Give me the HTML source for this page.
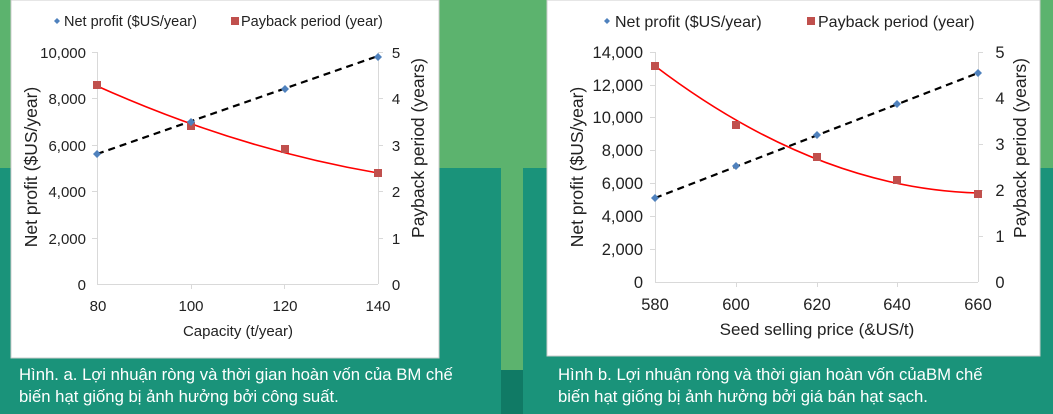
<!DOCTYPE html>
<html><head><meta charset="utf-8"><style>
html,body{margin:0;padding:0;width:1053px;height:414px;overflow:hidden;background:#1a937a}
svg{display:block;font-family:"Liberation Sans",sans-serif}
</style></head><body>
<svg width="1053" height="414" viewBox="0 0 1053 414">
<rect x="0" y="0" width="1053" height="168" fill="#5cb36e"/>
<rect x="501" y="168" width="22" height="202" fill="#5cb36e"/>
<rect x="501" y="370" width="22" height="44" fill="#107a65"/>
<rect x="0" y="168" width="501" height="246" fill="#1a937a"/>
<!-- Left panel -->
<rect x="11" y="0" width="428" height="358" fill="#fff" stroke="#ccc"/>
<g font-size="14.5" fill="#222">
<path d="M54 21l3-3 3 3-3 3z" fill="#4f81bd"/>
<text x="64" y="26">Net profit ($US/year)</text>
<rect x="231" y="17" width="8" height="8" fill="#c0504d"/>
<text x="241" y="26">Payback period (year)</text>
</g>
<g stroke="#d9d9d9" stroke-width="1">
<line x1="97.5" y1="52" x2="97.5" y2="284"/><line x1="378.5" y1="52" x2="378.5" y2="284"/>
<line x1="97" y1="284.5" x2="378" y2="284.5"/>
<line x1="92" y1="52.5" x2="97" y2="52.5"/><line x1="92" y1="98.5" x2="97" y2="98.5"/><line x1="92" y1="145.5" x2="97" y2="145.5"/><line x1="92" y1="191.5" x2="97" y2="191.5"/><line x1="92" y1="238.5" x2="97" y2="238.5"/>
<line x1="378" y1="52.5" x2="383" y2="52.5"/><line x1="378" y1="98.5" x2="383" y2="98.5"/><line x1="378" y1="145.5" x2="383" y2="145.5"/><line x1="378" y1="191.5" x2="383" y2="191.5"/><line x1="378" y1="238.5" x2="383" y2="238.5"/>
<line x1="191.5" y1="284" x2="191.5" y2="289"/><line x1="284.5" y1="284" x2="284.5" y2="289"/>
</g>
<g font-size="15" fill="#222" text-anchor="end">
<text x="86" y="58">10,000</text><text x="86" y="104">8,000</text><text x="86" y="151">6,000</text><text x="86" y="197">4,000</text><text x="86" y="244">2,000</text><text x="86" y="290">0</text>
</g>
<g font-size="15" fill="#222" text-anchor="middle">
<text x="396" y="58">5</text><text x="396" y="104">4</text><text x="396" y="151">3</text><text x="396" y="197">2</text><text x="396" y="244">1</text><text x="396" y="290">0</text>
<text x="98" y="311">80</text><text x="191" y="311">100</text><text x="285" y="311">120</text><text x="378" y="311">140</text>
<text x="238" y="336">Capacity (t/year)</text>
</g>
<g font-size="17.5" fill="#222" text-anchor="middle">
<text transform="translate(37 167) rotate(-90)">Net profit ($US/year)</text>
<text transform="translate(424 148) rotate(-90)">Payback period (years)</text>
</g>
<path d="M97 86 Q237.5 149 378 173" fill="none" stroke="#f00" stroke-width="1.6"/>
<line x1="97" y1="154" x2="378" y2="56" stroke="#000" stroke-width="2.2" stroke-dasharray="7,5"/>
<g fill="#c0504d"><rect x="93" y="81" width="8" height="8"/><rect x="187" y="122" width="8" height="8"/><rect x="281" y="145" width="8" height="8"/><rect x="374" y="169" width="8" height="8"/></g>
<g fill="#4f81bd"><path d="M97 150l4 4-4 4-4-4z"/><path d="M191 118l4 4-4 4-4-4z"/><path d="M285 85l4 4-4 4-4-4z"/><path d="M378 53l4 4-4 4-4-4z"/></g>
<g font-size="16.7" fill="#fff"><text x="19" y="380">Hình. a. Lợi nhuận ròng và thời gian hoàn vốn của BM chế</text><text x="19" y="402">biến hạt giống bị ảnh hưởng bởi công suất.</text></g>

<!-- Right panel -->
<rect x="547" y="0" width="493" height="356" fill="#fff" stroke="#ccc"/>
<g font-size="16" fill="#222">
<path d="M604 21l3-3 3 3-3 3z" fill="#4f81bd"/>
<text x="615" y="27">Net profit ($US/year)</text>
<rect x="807" y="17" width="8" height="8" fill="#c0504d"/>
<text x="818" y="27">Payback period (year)</text>
</g>
<g stroke="#d9d9d9" stroke-width="1">
<line x1="655.5" y1="52" x2="655.5" y2="282"/><line x1="978.5" y1="52" x2="978.5" y2="282"/>
<line x1="655" y1="282.5" x2="978" y2="282.5"/>
<line x1="650" y1="52.5" x2="655" y2="52.5"/><line x1="650" y1="85.5" x2="655" y2="85.5"/><line x1="650" y1="117.5" x2="655" y2="117.5"/><line x1="650" y1="150.5" x2="655" y2="150.5"/><line x1="650" y1="183.5" x2="655" y2="183.5"/><line x1="650" y1="216.5" x2="655" y2="216.5"/><line x1="650" y1="249.5" x2="655" y2="249.5"/>
<line x1="978" y1="52.5" x2="983" y2="52.5"/><line x1="978" y1="98.5" x2="983" y2="98.5"/><line x1="978" y1="144.5" x2="983" y2="144.5"/><line x1="978" y1="190.5" x2="983" y2="190.5"/><line x1="978" y1="236.5" x2="983" y2="236.5"/>
<line x1="736.5" y1="282" x2="736.5" y2="287"/><line x1="817.5" y1="282" x2="817.5" y2="287"/><line x1="897.5" y1="282" x2="897.5" y2="287"/>
</g>
<g font-size="16.5" fill="#222" text-anchor="end">
<text x="643" y="58">14,000</text><text x="643" y="91">12,000</text><text x="643" y="123">10,000</text><text x="643" y="156">8,000</text><text x="643" y="189">6,000</text><text x="643" y="222">4,000</text><text x="643" y="255">2,000</text><text x="643" y="288">0</text>
</g>
<g font-size="16.5" fill="#222" text-anchor="middle">
<text x="1000" y="58">5</text><text x="1000" y="104">4</text><text x="1000" y="150">3</text><text x="1000" y="196">2</text><text x="1000" y="242">1</text><text x="1000" y="288">0</text>
<text x="655" y="310">580</text><text x="736" y="310">600</text><text x="817" y="310">620</text><text x="897" y="310">640</text><text x="978" y="310">660</text>
<text x="817" y="335" font-size="17">Seed selling price (&amp;US/t)</text>
</g>
<g font-size="17.5" fill="#222" text-anchor="middle">
<text transform="translate(583 167) rotate(-90)">Net profit ($US/year)</text>
<text transform="translate(1026 148) rotate(-90)">Payback period (years)</text>
</g>
<path d="M655 66 Q816.5 188.5 978 193" fill="none" stroke="#f00" stroke-width="1.6"/>
<line x1="655" y1="198" x2="978" y2="73" stroke="#000" stroke-width="2.2" stroke-dasharray="7,5"/>
<g fill="#c0504d"><rect x="651" y="62" width="8" height="8"/><rect x="732" y="121" width="8" height="8"/><rect x="813" y="153" width="8" height="8"/><rect x="893" y="176" width="8" height="8"/><rect x="974" y="190" width="8" height="8"/></g>
<g fill="#4f81bd"><path d="M655 194l4 4-4 4-4-4z"/><path d="M736 162l4 4-4 4-4-4z"/><path d="M817 131l4 4-4 4-4-4z"/><path d="M897 100l4 4-4 4-4-4z"/><path d="M978 69l4 4-4 4-4-4z"/></g>
<g font-size="16.7" fill="#fff"><text x="558" y="380">Hình b. Lợi nhuận ròng và thời gian hoàn vốn củaBM chế</text><text x="558" y="402">biến hạt giống bị ảnh hưởng bởi giá bán hạt sạch.</text></g>
</svg>
</body></html>
